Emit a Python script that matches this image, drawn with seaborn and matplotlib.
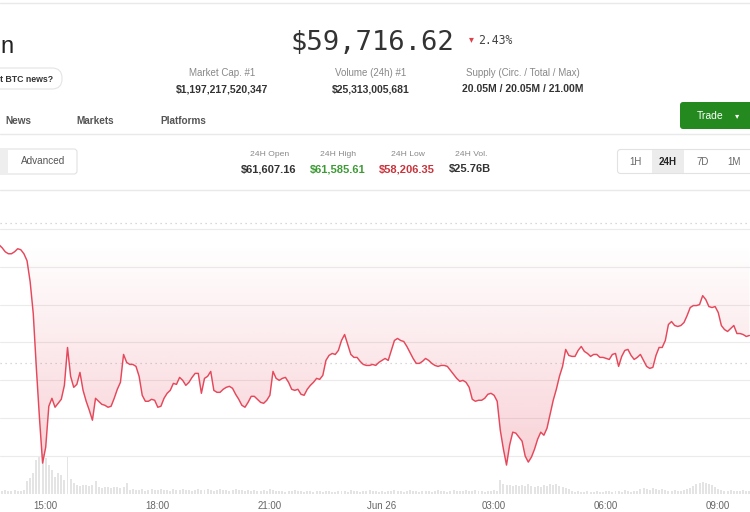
import matplotlib
matplotlib.use('Agg')
import matplotlib.pyplot as plt
import matplotlib.dates as mdates
from matplotlib.colors import to_rgb
from matplotlib.patches import FancyBboxPatch, Rectangle
import numpy as np
import pandas as pd
import seaborn as sns

# BTC / USD, 5 minute samples, Jun 25 13:45 -> Jun 26 09:50
start = '2024-06-25 13:45'
price = [
    61790, 61750, 61697, 61671, 61671, 61697, 61737, 61724, 61671, 61579,
    61303, 60882, 60158, 59500, 58908, 59118, 59658, 59763, 59645, 59697,
    59750, 59934, 60434, 60053, 59908, 59947, 60105, 59868, 59724, 59605,
    59474, 59763, 59724, 59684, 59671, 59645, 59658, 59763, 59882, 59974,
    60342, 60237, 60210, 60210, 60184, 60053, 59803, 59724, 59724, 59750,
    59737, 59645, 59658, 59763, 59829, 59868, 59960, 59947, 60039, 60000,
    59934, 59974, 60039, 60092, 60092, 59829, 60026, 60053, 60118, 59868,
    59842, 59842, 59882, 59908, 59921, 59895, 59816, 59750, 59671, 59645,
    59710, 59789, 59789, 59750, 59710, 59697, 59737, 59803, 60118, 60026,
    60000, 60026, 60039, 59974, 59882, 59868, 59882, 59816, 59803, 59882,
    59934, 59974, 60026, 60013, 60066, 60263, 60329, 60355, 60342, 60395,
    60526, 60605, 60474, 60342, 60303, 60303, 60250, 60210, 60197, 60197,
    60210, 60197, 60237, 60263, 60289, 60263, 60395, 60526, 60553, 60526,
    60513, 60447, 60368, 60289, 60224, 60224, 60250, 60289, 60263, 60224,
    60197, 60184, 60197, 60197, 60184, 60132, 60079, 60026, 59987, 60000,
    59974, 59908, 59750, 59724, 59737, 59737, 59763, 59816, 59829, 59803,
    59724, 59342, 59092, 58882, 59145, 59316, 59303, 59250, 59197, 59000,
    58921, 58987, 59092, 59224, 59316, 59276, 59368, 59553, 59737, 59882,
    60053, 60184, 60408, 60329, 60316, 60316, 60395, 60447, 60382, 60355,
    60316, 60342, 60342, 60303, 60303, 60289, 60276, 60342, 60355, 60184,
    60316, 60395, 60408, 60329, 60276, 60303, 60342, 60263, 60184, 60158,
    60171, 60329, 60434, 60434, 60526, 60737, 60776, 60724, 60711, 60724,
    60763, 60855, 60961, 60987, 60987, 61000, 61118, 61066, 60974, 60961,
    60974, 60895, 60724, 60671, 60645, 60684, 60724, 60618, 60618, 60605,
    60579, 60592,
]
# volume per 5 min bar (hundreds of BTC)
volume = [
    3, 3, 4, 3, 3, 4, 3, 3, 4, 13,
    16, 21, 34, 37, 40, 36, 29, 24, 17, 21,
    19, 14, 37, 15, 11, 9, 8, 9, 9, 8,
    9, 13, 7, 6, 7, 7, 6, 7, 7, 6,
    7, 11, 4, 5, 4, 4, 5, 3, 4, 5,
    4, 4, 5, 4, 4, 3, 5, 4, 4, 5,
    4, 4, 3, 4, 5, 4, 4, 5, 4, 3,
    4, 5, 4, 4, 3, 4, 5, 4, 4, 3,
    4, 3, 4, 3, 3, 4, 3, 5, 4, 3,
    3, 3, 2, 3, 3, 4, 3, 3, 2, 3,
    3, 2, 3, 3, 2, 3, 3, 2, 2, 3,
    3, 3, 2, 4, 3, 3, 2, 3, 3, 4,
    3, 3, 2, 3, 2, 3, 3, 4, 3, 3,
    2, 3, 4, 3, 3, 2, 3, 3, 3, 2,
    3, 4, 3, 3, 2, 3, 4, 3, 3, 3,
    4, 3, 3, 4, 3, 3, 2, 3, 3, 4,
    3, 14, 10, 9, 9, 8, 9, 8, 9, 8,
    10, 8, 7, 8, 7, 9, 8, 10, 9, 10,
    8, 7, 6, 5, 3, 2, 3, 2, 2, 3,
    2, 2, 3, 2, 2, 3, 3, 2, 3, 3,
    2, 4, 3, 2, 3, 3, 5, 6, 5, 4,
    6, 5, 4, 5, 4, 3, 3, 4, 3, 3,
    4, 5, 6, 8, 10, 11, 12, 11, 10, 9,
    7, 5, 4, 3, 3, 4, 3, 3, 3, 4,
    3, 3,
]
grid_levels = [59000, 59500, 60000, 60500, 61000, 61500, 62000]
top_price = 62079
avg_price = 60224
tick_hours = [0, 3, 6, 9, 15, 18, 21]

last_price = '$59,716.62'
change = '2.43%'
stat_labels = ['Market Cap. #1', 'Volume (24h) #1', 'Supply (Circ. / Total / Max)']
stat_values = ['$1,197,217,520,347', '$25,313,005,681', '20.05M / 20.05M / 21.00M']
day_labels = ['24H Open', '24H High', '24H Low', '24H Vol.']
day_values = ['$61,607.16', '$61,585.61', '$58,206.35', '$25.76B']
nav_items = ['News', 'Markets', 'Platforms']
ranges = ['1H', '24H', '7D', '1M']

line_color = '#e5485b'
green = '#24891f'

sns.set_theme(style='white')
plt.rcParams['font.family'] = ['Liberation Sans', 'DejaVu Sans']

fig = plt.figure(figsize=(7.5, 5.12), dpi=100)
fig.patch.set_facecolor('white')

# page chrome, in pixel coordinates
page = fig.add_axes([0, 0, 1, 1])
page.set_xlim(0, 750)
page.set_ylim(512, 0)
page.axis('off')

for y in [3, 134, 190]:
    page.axhline(y, color='#e9e9e9', lw=1)

page.text(0, 53, 'n', fontsize=17, color='#222222', va='baseline')
page.add_patch(FancyBboxPatch((-30, 68), 92, 21, boxstyle='round,pad=0,rounding_size=10',
                              fc='white', ec='#e4e4e4', lw=0.8))
page.text(0.5, 82, 't BTC news?', fontsize=6.3, weight='bold', color='#333333',
          ha='left', va='baseline')

page.text(372, 50, last_price, fontsize=19.6, family='DejaVu Sans Mono', color='#333333',
          ha='center', va='baseline')
page.text(471, 39, '▾', fontsize=7, color='#e0404a', ha='center', va='center',
          family='DejaVu Sans')
page.text(478, 43.5, change, fontsize=8.3, family='DejaVu Sans Mono', color='#444444',
          va='baseline')

for cx, lab, val in zip([222, 371, 523], stat_labels, stat_values):
    page.text(cx, 76, lab, fontsize=7, color='#888888', ha='center', va='baseline')
    page.text(cx, 92, val, fontsize=7.5, weight='bold', color='#333333', ha='center',
              va='baseline')

page.add_patch(FancyBboxPatch((680, 102), 80, 27, boxstyle='round,pad=0,rounding_size=3',
                              fc=green, ec='none'))
page.text(710, 119, 'Trade', fontsize=7.5, color='white', ha='center', va='baseline')
page.text(737, 116, '▾', fontsize=6, color='white', ha='center', va='center',
          family='DejaVu Sans')

for cx, item in zip([18.5, 95.5, 183], nav_items):
    page.text(cx, 124, item, fontsize=7.2, weight='bold', color='#555555', ha='center',
              va='baseline')

# Overview / Advanced toggle
page.add_patch(FancyBboxPatch((-20, 149), 97, 25, boxstyle='round,pad=0,rounding_size=3',
                              fc='white', ec='#e2e2e2', lw=0.8))
page.add_patch(Rectangle((-20, 149.4), 27.5, 24.2, fc='#eeeeee', ec='none'))
page.text(42.7, 164.5, 'Advanced', fontsize=7.2, color='#555555', ha='center', va='baseline')

for cx, lab, val, col in zip([270, 338.5, 408, 471], day_labels, day_values,
                             ['#333333', '#3d9a35', '#c9333c', '#333333']):
    page.text(cx, 156, lab, fontsize=6.1, color='#888888', ha='center', va='baseline')
    page.text(cx - 1, 172, val, fontsize=8, weight='bold', color=col, ha='center',
              va='baseline')

page.add_patch(FancyBboxPatch((617.5, 149.5), 150, 24, boxstyle='round,pad=0,rounding_size=3',
                              fc='white', ec='#e2e2e2', lw=0.8))
page.add_patch(Rectangle((651.5, 150), 32, 23, fc='#ececec', ec='none'))
for cx, r in zip([635, 667.5, 703, 734.5], ranges):
    page.text(cx, 165, r, fontsize=7, color='#222222' if r == '24H' else '#666666',
              weight='bold' if r == '24H' else 'normal', ha='center', va='baseline')

# chart
df = pd.DataFrame({'time': pd.date_range(start, periods=len(price), freq='5min'),
                   'price': price, 'volume': volume})
tn = mdates.date2num(df['time'])

ax = fig.add_axes([0, 18 / 512, 1, 272 / 512])
sns.lineplot(data=df, x='time', y='price', ax=ax, color=line_color, lw=1.05, zorder=3)
ax.set(xlabel='', ylabel='')

axv = ax.twinx()
axv.bar(df['time'], df['volume'], width=0.0022, color='#e4e4e4', lw=0)
axv.set_ylim(0, 272)
axv.set_yticks([])
ax.set_zorder(axv.get_zorder() + 1)
ax.patch.set_visible(False)

# gradient fill between the price and the opening level
base = price[0]
poly = ax.fill_between(tn, df['price'], base, color='none', lw=0)
grad = np.zeros((256, 1, 4))
grad[..., :3] = to_rgb(line_color)
grad[..., 3] = np.linspace(0.25, 0.0, 256)[:, None]
img = ax.imshow(grad, extent=[tn[0], tn[-1], min(price), base], origin='lower',
                aspect='auto', zorder=2)
img.set_clip_path(poly.get_paths()[0], transform=ax.transData)

ax.axhline(top_price, color='#cccccc', lw=0.9, ls=(0, (1, 3)), zorder=1)
ax.axhline(avg_price, color='#cccccc', lw=0.9, ls=(0, (1, 3)), zorder=1)

t0 = df['time'].iloc[0]
ax.set_xlim(t0 + pd.Timedelta(minutes=1.6), t0 + pd.Timedelta(minutes=1206))
ax.set_ylim(58500, 62090)
ax.set_yticks(grid_levels)
ax.yaxis.grid(True, color='#ebebeb', lw=0.8)
ax.xaxis.grid(False)
ax.tick_params(axis='y', left=False, labelleft=False)
ax.xaxis.set_major_locator(mdates.HourLocator(byhour=tick_hours))
ax.xaxis.set_major_formatter(matplotlib.ticker.FuncFormatter(
    lambda v, _: 'Jun 26' if mdates.num2date(v).hour == 0 else mdates.num2date(v).strftime('%H:%M')))
ax.tick_params(axis='x', length=0, pad=5, labelsize=7, labelcolor='#666666')
for a in (ax, axv):
    for s in a.spines.values():
        s.set_visible(False)

fig.savefig('out.png', dpi=100, facecolor='white')
